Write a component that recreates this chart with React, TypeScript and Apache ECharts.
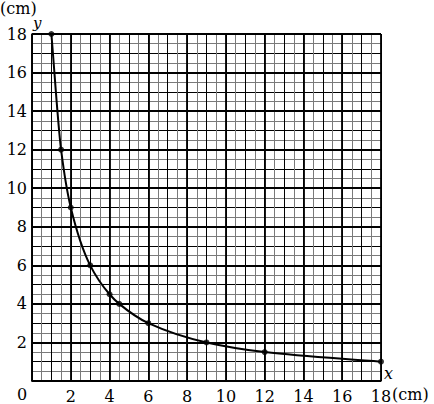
import React, { useEffect, useRef } from "react";
import * as echarts from "echarts";

const xValues = [1, 1.5, 2, 3, 4, 4.5, 6, 9, 12, 18];
const yValues = [18, 12, 9, 6, 4.5, 4, 3, 2, 1.5, 1];
const axisMin = 0;
const axisMax = 18;
const FONT = "DejaVu Serif";

function monotoneTangents(px: number[][]) {
  const n = px.length;
  const d: number[] = [];
  for (let i = 0; i < n - 1; i++) {
    d.push((px[i + 1][1] - px[i][1]) / (px[i + 1][0] - px[i][0]));
  }
  const m: number[] = new Array(n);
  m[0] = d[0];
  m[n - 1] = d[n - 2];
  for (let i = 1; i < n - 1; i++) {
    if (d[i - 1] * d[i] <= 0) m[i] = 0;
    else {
      const h0 = px[i][0] - px[i - 1][0];
      const h1 = px[i + 1][0] - px[i][0];
      const w1 = 2 * h1 + h0;
      const w2 = h1 + 2 * h0;
      m[i] = (w1 + w2) / (w1 / d[i - 1] + w2 / d[i]);
    }
  }
  return m;
}

export default function App() {
  const ref = useRef<HTMLDivElement>(null);
  useEffect(() => {
    if (!ref.current) return;
    const chart = echarts.init(ref.current, null, { renderer: "svg" });
    const points = xValues.map((x, i) => [x, yValues[i]]);
    const labelFmt = (v: number) => (v > 0 && v % 2 === 0 ? String(v) : "");
    const grid = { left: 32, right: 53, top: 34, bottom: 22 };
    const makeAxis = (isX: boolean) => ({
      type: "value",
      gridIndex: 0,
      min: axisMin,
      max: axisMax,
      interval: 1,
      axisLine: { show: true, lineStyle: { color: "#000", width: 1.5 } },
      axisTick: { show: false },
      axisLabel: {
        formatter: labelFmt,
        color: "#000",
        fontFamily: FONT,
        fontSize: 16,
        margin: isX ? 7 : 5,
      },
      splitLine: { show: true, lineStyle: { color: "#000", width: 1 } },
      minorTick: { show: false, splitNumber: 2 },
      minorSplitLine: { show: true, lineStyle: { color: "#7a7a7a", width: 1 } },
      z: 1,
    });
    const makeMajorAxis = () => ({
      type: "value",
      gridIndex: 0,
      min: axisMin,
      max: axisMax,
      interval: 2,
      axisLine: { show: false },
      axisTick: { show: false },
      axisLabel: { show: false },
      splitLine: { show: true, lineStyle: { color: "#000", width: 1.8 } },
      z: 2,
    });
    chart.setOption({
      animation: false,
      backgroundColor: "#fff",
      grid,
      xAxis: [makeAxis(true), makeMajorAxis()],
      yAxis: [makeAxis(false), makeMajorAxis()],
      series: [
        {
          type: "custom",
          xAxisIndex: 0,
          yAxisIndex: 0,
          data: points,
          z: 5,
          renderItem: (params: any, api: any) => {
            if (params.dataIndex !== 0) return null;
            const px = points.map((p) => api.coord(p));
            const m = monotoneTangents(px);
            const children: any[] = [];
            for (let i = 0; i < px.length - 1; i++) {
              const h = (px[i + 1][0] - px[i][0]) / 3;
              children.push({
                type: "bezierCurve",
                shape: {
                  x1: px[i][0],
                  y1: px[i][1],
                  cpx1: px[i][0] + h,
                  cpy1: px[i][1] + m[i] * h,
                  cpx2: px[i + 1][0] - h,
                  cpy2: px[i + 1][1] - m[i + 1] * h,
                  x2: px[i + 1][0],
                  y2: px[i + 1][1],
                },
                style: { stroke: "#000", lineWidth: 2, fill: null },
              });
            }
            return { type: "group", children };
          },
        },
        {
          type: "scatter",
          xAxisIndex: 0,
          yAxisIndex: 0,
          data: points,
          symbol: "circle",
          symbolSize: 6,
          itemStyle: { color: "#000" },
          z: 6,
        },
      ],
      graphic: [
        { type: "text", left: 0, top: 0, style: { text: "(cm)", font: `16px "${FONT}"`, fill: "#000" } },
        { type: "text", left: 33, top: 15, style: { text: "y", font: `italic 15px "${FONT}"`, fill: "#000" } },
        { type: "text", left: 384, top: 365, style: { text: "x", font: `italic 16px "${FONT}"`, fill: "#000" } },
        { type: "text", left: 17, top: 386, style: { text: "0", font: `16px "${FONT}"`, fill: "#000" } },
        { type: "text", left: 392, top: 386, style: { text: "(cm)", font: `16px "${FONT}"`, fill: "#000" } },
      ],
    });
    return () => chart.dispose();
  }, []);
  return (
    <div
      ref={ref}
      style={{ position: "fixed", left: 0, top: 0, width: 434, height: 404 }}
    />
  );
}
